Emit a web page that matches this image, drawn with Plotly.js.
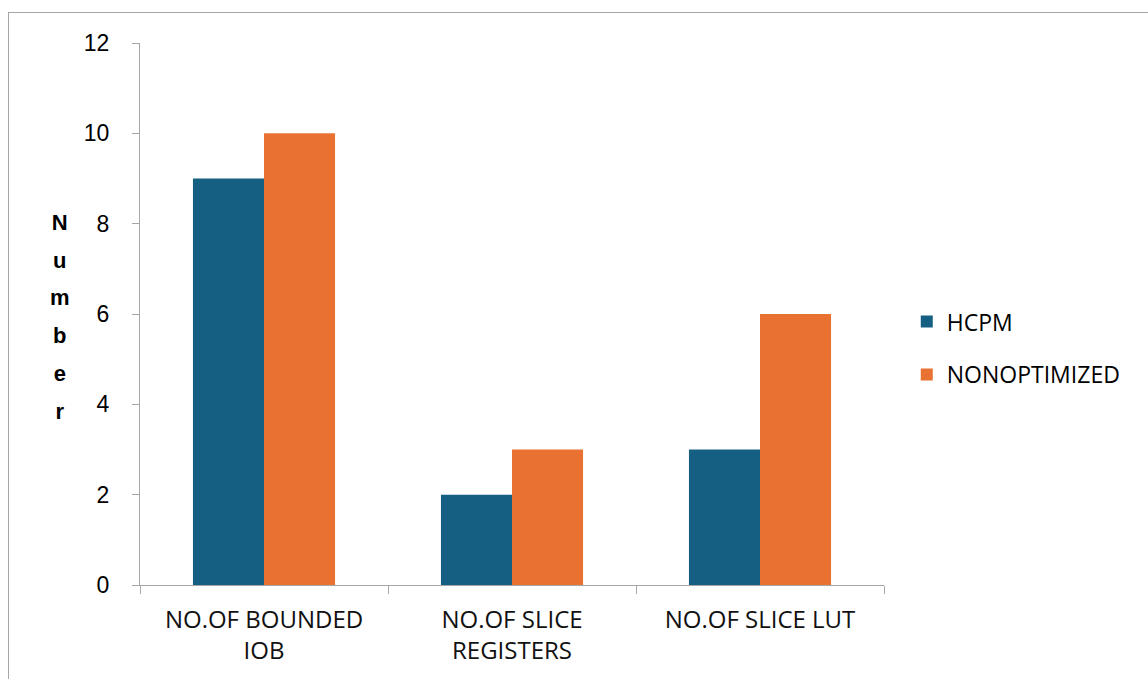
<!DOCTYPE html>
<html>
<head>
<meta charset="utf-8">
<script src="https://cdn.plot.ly/plotly-3.0.1.min.js"></script>
<style>
html,body{margin:0;padding:0;background:#fff;overflow:hidden;}
#chart{width:1148px;height:679px;}
#frame{position:absolute;left:8px;top:12px;width:1200px;height:700px;border:1px solid #a6a6a6;pointer-events:none;}
</style>
</head>
<body>
<div id="chart"></div>
<div id="frame"></div>
<script>
const categories = ["NO.OF BOUNDED<br>IOB", "NO.OF SLICE<br>REGISTERS", "NO.OF SLICE LUT"];
const hcpm = [9, 2, 3];
const nonoptimized = [10, 3, 6];
const seriesNames = ["HCPM", "NONOPTIMIZED"];
const yTitle = "Number";

const traces = [
  {type:"bar", name:seriesNames[0], x:categories, y:hcpm, marker:{color:"#156082"}, legendgroup:"a"},
  {type:"bar", name:seriesNames[1], x:categories, y:nonoptimized, marker:{color:"#E97132"}, legendgroup:"b"}
];

const letters = yTitle.split("").map(c => '<span style="font-size:22px">' + c + '</span>').join("<br>");

const layout = {
  width:1148, height:679,
  margin:{l:140, r:264, t:43, b:94},
  paper_bgcolor:"#fff", plot_bgcolor:"#fff",
  barmode:"group", bargap:0.427, bargroupgap:0,
  font:{family:"Liberation Sans, Arial, sans-serif", color:"#000"},
  xaxis:{
    type:"category", showgrid:false, showline:true, linecolor:"#a6a6a6", linewidth:1,
    ticks:"outside", tickson:"boundaries", ticklen:8, tickcolor:"#a6a6a6", ticklabelstandoff:13,
    tickfont:{family:"Open Sans, sans-serif", size:24, color:"#111"},
    zeroline:false, fixedrange:true
  },
  yaxis:{
    range:[0,12], dtick:2, showgrid:false, showline:true, linecolor:"#a6a6a6", linewidth:1,
    ticks:"outside", ticklen:7, tickcolor:"#a6a6a6", ticklabelstandoff:18,
    tickfont:{family:"Liberation Sans, Arial, sans-serif", size:23, color:"#000"},
    zeroline:false, fixedrange:true
  },
  legend:{x:1.0306, y:0.437, xanchor:"left", yanchor:"middle", font:{family:"Open Sans, sans-serif", size:23, color:"#000"}, tracegroupgap:20, bgcolor:"rgba(0,0,0,0)"},
  showlegend:true,
  annotations:[{
    xref:"paper", yref:"paper", x:-0.107, y:0.495, xanchor:"center", yanchor:"middle",
    text:"<b>" + letters + "</b>", showarrow:false,
    font:{family:"Liberation Sans, Arial, sans-serif", size:29, color:"#000"}
  }]
};

Plotly.newPlot("chart", traces, layout, {displayModeBar:false, staticPlot:true});
</script>
</body>
</html>
